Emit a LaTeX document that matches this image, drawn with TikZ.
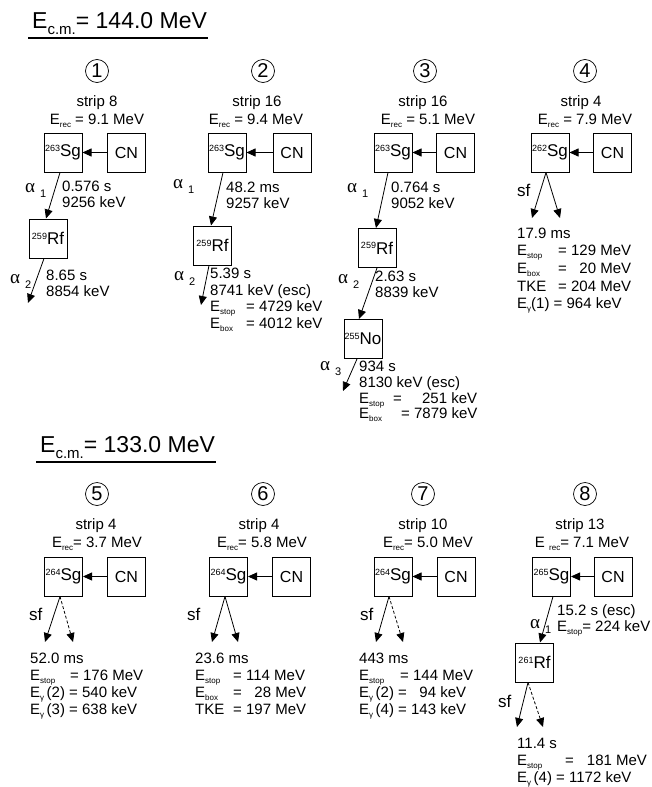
\documentclass[tikz,border=0pt]{standalone}
\usepackage{fontspec}
\setmainfont{Liberation Sans}
\newfontfamily\serf{Liberation Serif}
\usetikzlibrary{arrows.meta}
\newcommand\sbs[1]{\raisebox{-3pt}{\fontsize{8}{8}\selectfont #1}}
\newcommand\gam{\raisebox{-3pt}{\fontsize{8}{8}\selectfont γ}}
\newcommand\nuc[2]{\raisebox{5.5pt}{\fontsize{9}{9}\selectfont #1}{\fontsize{17}{17}\selectfont #2}}
\newcommand\alfa[1]{{\serf\fontsize{19}{19}\selectfont α}\hspace{5pt}\raisebox{-5pt}{\fontsize{11}{11}\selectfont #1}}
\newcommand\lns[1]{\begin{tabular}[t]{@{}l@{}}#1\end{tabular}}
\newcommand\lab[2]{\makebox[#1][l]{#2}}
\begin{document}
\begin{tikzpicture}[x=1pt,y=-1pt,
  nbox/.style={draw, line width=1pt, minimum width=38pt, minimum height=39pt, inner sep=0pt, font=\fontsize{16}{16}\selectfont},
  arr/.style={line width=0.8pt, -{Triangle[length=9pt,width=8pt]}},
  darr/.style={arr, dash pattern=on 3pt off 2pt},
  txt/.style={inner sep=0pt, anchor=base west, font=\fontsize{15}{16.7}\selectfont},
  ctxt/.style={txt, anchor=base},
  sfl/.style={inner sep=0pt, anchor=base west, font=\fontsize{17}{17}\selectfont},
  circ/.style={circle, draw, line width=0.7pt, minimum size=23pt, inner sep=0pt, font=\fontsize{20}{20}\selectfont},
  hdr/.style={inner sep=0pt, anchor=base west, font=\fontsize{23}{23}\selectfont}]
\fill[white] (0,0) rectangle (651,787);
\useasboundingbox (0,0) rectangle (651,787);

% ---------- header 1
\node[hdr] (h1) at (32,28) {E\raisebox{-6.5pt}{\fontsize{15}{15}\selectfont c.m.}= 144.0 MeV};
\draw[line width=1.1pt] (28,38) -- (208,38);

% ---------- chain 1
\node[circ] (c1) at (97,71) {1};
\node[ctxt] (s1) at (97,106) {strip 8};
\node[ctxt] (e1) at (97,124) {E\sbs{rec} = 9.1 MeV};
\node[nbox] (sg1) at (63,152.5) {\nuc{263}{Sg}};
\node[nbox] (cn1) at (126.5,152.5) {CN};
\node[nbox] (rf1) at (48,238.5) {\nuc{259}{Rf}};
\coordinate (end1) at (28,303);
\draw[arr] (cn1.west) -- (sg1.east);
\draw[arr] ([xshift=-3pt]sg1.south) -- ([xshift=-2pt]rf1.north);
\draw[arr] ([xshift=-4pt]rf1.south) -- (end1);
\node[txt] (a11) at (25,192) {\alfa{1}};
\node[txt] (t11) at (62,191) {\lns{0.576 s\\9256 keV}};
\node[txt] (a12) at (10,283) {\alfa{2}};
\node[txt] (t12) at (46,280) {\lns{8.65 s\\8854 keV}};

% ---------- chain 2
\node[circ] (c2) at (263,71) {2};
\node[ctxt] (s2) at (257,106) {strip 16};
\node[ctxt] (e2) at (256,124) {E\sbs{rec} = 9.4 MeV};
\node[nbox] (sg2) at (227,152.5) {\nuc{263}{Sg}};
\node[nbox] (cn2) at (292,152.5) {CN};
\node[nbox] (rf2) at (212.5,245.5) {\nuc{259}{Rf}};
\coordinate (end2) at (201,305);
\draw[arr] (cn2.west) -- (sg2.east);
\draw[arr] ([xshift=-4pt]sg2.south) -- ([xshift=-1.5pt]rf2.north);
\draw[arr] ([xshift=-3.5pt]rf2.south) -- (end2);
\node[txt] (a21) at (173,188) {\alfa{1}};
\node[txt] (t21) at (226,192) {\lns{48.2 ms\\9257 keV}};
\node[txt] (a22) at (174,280) {\alfa{2}};
\node[txt] (t22) at (210,278.5) {\lns{5.39 s\\8741 keV (esc)\\\lab{36pt}{E\sbs{stop}}= 4729 keV\\\lab{36pt}{E\sbs{box}}= 4012 keV}};

% ---------- chain 3
\node[circ] (c3) at (425,71) {3};
\node[ctxt] (s3) at (423,106) {strip 16};
\node[ctxt] (e3) at (428,124) {E\sbs{rec} = 5.1 MeV};
\node[nbox] (sg3) at (393,152.5) {\nuc{263}{Sg}};
\node[nbox] (cn3) at (455.5,152.5) {CN};
\node[nbox] (rf3) at (377,248) {\nuc{259}{Rf}};
\node[nbox] (no3) at (363,339) {\nuc{255}{No}};
\coordinate (end3) at (343,391);
\draw[arr] (cn3.west) -- (sg3.east);
\draw[arr] ([xshift=-5pt]sg3.south) -- ([xshift=-1pt]rf3.north);
\draw[arr] (rf3.south) -- ([xshift=-4pt]no3.north);
\draw[arr] ([xshift=-6pt]no3.south) -- (end3);
\node[txt] (a31) at (347,192) {\alfa{1}};
\node[txt] (t31) at (391,192) {\lns{0.764 s\\9052 keV}};
\node[txt] (a32) at (338,283) {\alfa{2}};
\node[txt] (t32) at (375,281) {\lns{2.63 s\\8839 keV}};
\node[txt] (a33) at (320,370) {\alfa{3}};
\node[txt, font=\fontsize{15}{15.8}\selectfont] (t33) at (359,371.5) {\lns{934 s\\8130 keV (esc)\\\lab{34pt}{E\sbs{stop}}= \makebox[41pt][r]{251} keV\\\lab{42pt}{E\sbs{box}}= 7879 keV}};

% ---------- chain 4
\node[circ] (c4) at (585,71) {4};
\node[ctxt] (s4) at (581,106) {strip 4};
\node[ctxt] (e4) at (585,124) {E\sbs{rec} = 7.9 MeV};
\node[nbox] (sg4) at (550,152.5) {\nuc{262}{Sg}};
\node[nbox] (cn4) at (612.5,152.5) {CN};
\coordinate (end41) at (532,218);
\coordinate (end42) at (560,218);
\draw[arr] (cn4.west) -- (sg4.east);
\draw[arr] ([xshift=-4pt]sg4.south) -- (end41);
\draw[arr] ([xshift=-4pt]sg4.south) -- (end42);
\node[sfl] (f4) at (517,196) {sf};
\node[txt, font=\fontsize{15}{17.7}\selectfont] (t4) at (517,238) {\lns{17.9 ms\\\lab{41pt}{E\sbs{stop}}= \makebox[25pt][r]{129} MeV\\\lab{41pt}{E\sbs{box}}= \makebox[25pt][r]{20} MeV\\\lab{41pt}{TKE}= \makebox[25pt][r]{204} MeV\\E\gam(1) = 964 keV}};

% ---------- header 2
\node[hdr] (h2) at (40,452) {E\raisebox{-6.5pt}{\fontsize{15}{15}\selectfont c.m.}= 133.0 MeV};
\draw[line width=1.1pt] (36,462) -- (216,462);

% ---------- chain 5
\node[circ] (c5) at (97,494) {5};
\node[ctxt] (s5) at (96,529) {strip 4};
\node[ctxt] (e5) at (97,547) {E\sbs{rec}= 3.7 MeV};
\node[nbox] (sg5) at (63.5,576.5) {\nuc{264}{Sg}};
\node[nbox] (cn5) at (126.5,576.5) {CN};
\coordinate (end51) at (45,642);
\coordinate (end52) at (73,642);
\draw[arr] (cn5.west) -- (sg5.east);
\draw[arr] ([xshift=-3.5pt]sg5.south) -- (end51);
\draw[darr] ([xshift=-3.5pt]sg5.south) -- (end52);
\node[sfl] (f5) at (29,620) {sf};
\node[txt, font=\fontsize{15}{17.3}\selectfont] (t5) at (30,663) {\lns{52.0 ms\\\lab{40pt}{E\sbs{stop}}= 176 MeV\\E\gam\,(2) = 540 keV\\E\gam\,(3) = 638 keV}};

% ---------- chain 6
\node[circ] (c6) at (263,494) {6};
\node[ctxt] (s6) at (259,529) {strip 4};
\node[ctxt] (e6) at (262,547) {E\sbs{rec}= 5.8 MeV};
\node[nbox] (sg6) at (228.5,576.5) {\nuc{264}{Sg}};
\node[nbox] (cn6) at (291.5,576.5) {CN};
\coordinate (end61) at (212,642);
\coordinate (end62) at (238,642);
\draw[arr] (cn6.west) -- (sg6.east);
\draw[arr] ([xshift=-3.5pt]sg6.south) -- (end61);
\draw[arr] ([xshift=-3.5pt]sg6.south) -- (end62);
\node[sfl] (f6) at (187,620) {sf};
\node[txt, font=\fontsize{15}{17.3}\selectfont] (t6) at (195,663) {\lns{23.6 ms\\\lab{38pt}{E\sbs{stop}}= 114 MeV\\\lab{38pt}{E\sbs{box}}= \phantom{1}28 MeV\\\lab{38pt}{TKE}= 197 MeV}};

% ---------- chain 7
\node[circ] (c7) at (423,494) {7};
\node[ctxt] (s7) at (423,529) {strip 10};
\node[ctxt] (e7) at (428,547) {E\sbs{rec}= 5.0 MeV};
\node[nbox] (sg7) at (393,576.5) {\nuc{264}{Sg}};
\node[nbox] (cn7) at (456,576.5) {CN};
\coordinate (end71) at (376,642);
\coordinate (end72) at (403,642);
\draw[arr] (cn7.west) -- (sg7.east);
\draw[arr] ([xshift=-4pt]sg7.south) -- (end71);
\draw[darr] ([xshift=-4pt]sg7.south) -- (end72);
\node[sfl] (f7) at (360,620) {sf};
\node[txt, font=\fontsize{15}{17.3}\selectfont] (t7) at (359,663) {\lns{443 ms\\\lab{41pt}{E\sbs{stop}}= 144 MeV\\E\gam\,(2) = \phantom{1}94 keV\\E\gam\,(4) = 143 keV}};

% ---------- chain 8
\node[circ] (c8) at (585,494) {8};
\node[ctxt] (s8) at (580,529) {strip 13};
\node[ctxt] (e8) at (582,547) {E \sbs{rec}= 7.1 MeV};
\node[nbox] (sg8) at (551.5,576.5) {\nuc{265}{Sg}};
\node[nbox] (cn8) at (613,576.5) {CN};
\node[nbox] (rf8) at (534.5,662.5) {\nuc{261}{Rf}};
\coordinate (end81) at (517,727);
\coordinate (end82) at (543,727);
\draw[arr] (cn8.west) -- (sg8.east);
\draw[arr] ([xshift=1.5pt]sg8.south) -- ([xshift=5.5pt]rf8.north);
\node[txt] (a81) at (530,628) {\alfa{1}};
\node[txt] (t81) at (557,615) {\lns{15.2 s (esc)\\E\sbs{stop}= 224 keV}};
\draw[arr] ([xshift=-6.5pt]rf8.south) -- (end81);
\draw[darr] ([xshift=-6.5pt]rf8.south) -- (end82);
\node[sfl] (f8) at (498,707) {sf};
\node[txt, font=\fontsize{15}{17}\selectfont] (t82) at (517,748) {\lns{11.4 s\\\lab{48pt}{E\sbs{stop}}=\hspace{13pt}181 MeV\\E\gam\,(4) = 1172 keV}};
\end{tikzpicture}
\end{document}
